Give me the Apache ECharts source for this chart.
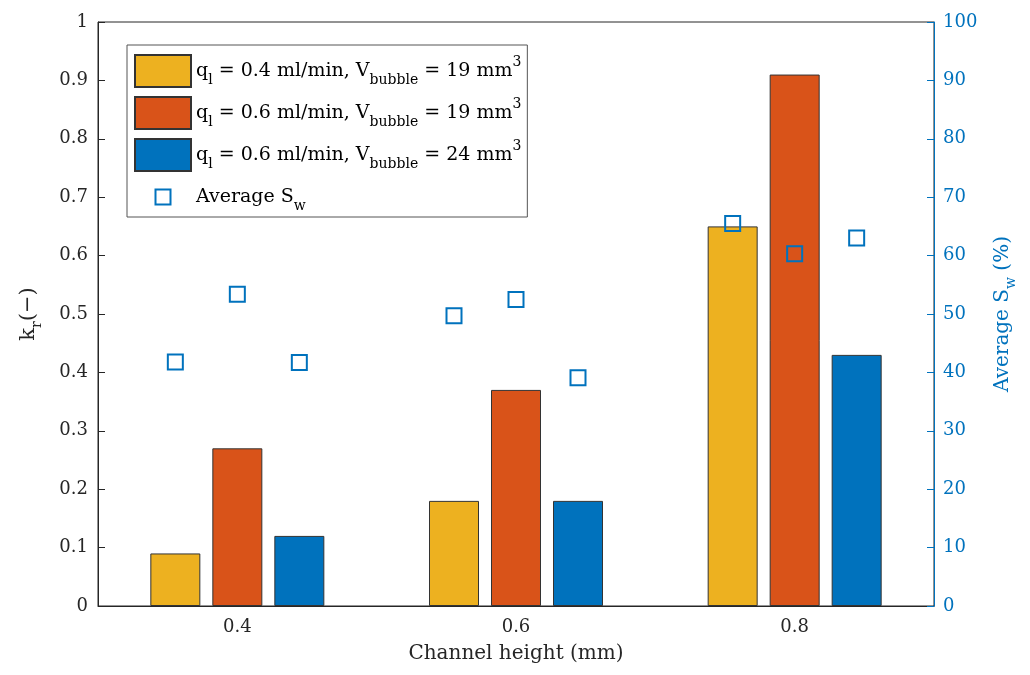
<!DOCTYPE html>
<html>
<head>
<meta charset="utf-8">
<script src="https://cdn.jsdelivr.net/npm/echarts@6/dist/echarts.min.js"></script>
<style>html,body{margin:0;padding:0;background:#fff}#c{width:1030px;height:675px}</style>
</head>
<body>
<div id="c"></div>
<script>
// ---- data ----
const channelHeights = ['0.4', '0.6', '0.8'];
const krLowFlow19 = [0.09, 0.18, 0.65];   // q_l = 0.4 ml/min, V = 19 mm3
const krHighFlow19 = [0.27, 0.37, 0.91];  // q_l = 0.6 ml/min, V = 19 mm3
const krHighFlow24 = [0.12, 0.18, 0.43];  // q_l = 0.6 ml/min, V = 24 mm3
const swLowFlow19 = [41.8, 49.7, 65.5];   // average Sw (%)
const swHighFlow19 = [53.4, 52.5, 60.3];
const swHighFlow24 = [41.7, 39.1, 63.0];
const krTicks = { min: 0, max: 1, interval: 0.1 };
const swTicks = { min: 0, max: 100, interval: 10 };

const FONT = 'DejaVu Serif';
const BLUE = '#0072BD';
const DARK = '#262626';
const colors = ['#EDB120', '#D95319', '#0072BD'];

const legendRich = {
  n: { fontFamily: FONT, fontSize: 19, color: '#000', lineHeight: 32, verticalAlign: 'middle' },
  sb: { fontFamily: FONT, fontSize: 14, color: '#000', lineHeight: 14, verticalAlign: 'bottom' },
  sp: { fontFamily: FONT, fontSize: 14, color: '#000', lineHeight: 18, verticalAlign: 'top' }
};
const legendText = {
  s1: '{n|q}{sb|l}{n| = 0.4 ml/min, V}{sb|bubble}{n| = 19 mm}{sp|3}',
  s2: '{n|q}{sb|l}{n| = 0.6 ml/min, V}{sb|bubble}{n| = 19 mm}{sp|3}',
  s3: '{n|q}{sb|l}{n| = 0.6 ml/min, V}{sb|bubble}{n| = 24 mm}{sp|3}',
  sw: '{n|Average S}{sb|w}'
};

const barW = 50, barGapPx = 12;
const pitch = barW + barGapPx;

function barSeries(name, data, color) {
  return {
    name, type: 'bar', data, barWidth: barW, barGap: (barGapPx / barW * 100) + '%',
    itemStyle: { color, borderColor: '#333', borderWidth: 1 },
    xAxisIndex: 0, yAxisIndex: 0, z: 2
  };
}
function swSeries(data, offset) {
  return {
    name: 'sw', type: 'scatter', data, xAxisIndex: 0, yAxisIndex: 1,
    symbol: 'rect', symbolSize: 15, symbolOffset: [offset, 0],
    itemStyle: { color: 'rgba(0,0,0,0)', borderColor: BLUE, borderWidth: 2, opacity: 1 },
    z: 5
  };
}

const chart = echarts.init(document.getElementById('c'), null, { renderer: 'canvas' });
chart.setOption({
  animation: false,
  backgroundColor: '#fff',
  grid: { left: 98, right: 96, top: 22, bottom: 69, show: true, borderColor: DARK, borderWidth: 1, backgroundColor: 'transparent' },
  legend: {
    orient: 'vertical', left: 127, top: 45,
    padding: [9, 6, 3, 7], itemGap: 8, itemWidth: 56, itemHeight: 32, itemTextGap: 3,
    backgroundColor: '#fff', borderColor: '#555', borderWidth: 1, borderRadius: 0,
    selectedMode: false,
    data: [
      { name: 's1', icon: 'rect' }, { name: 's2', icon: 'rect' }, { name: 's3', icon: 'rect' },
      { name: 'sw', icon: 'path://M0,0M56,32M20.5,8.5h15v15h-15z',
        itemStyle: { color: 'rgba(0,0,0,0)', borderColor: BLUE, borderWidth: 2 } }
    ],
    formatter: n => legendText[n],
    textStyle: { rich: legendRich, fontFamily: FONT, fontSize: 19 }
  },
  xAxis: [{
    type: 'category', data: channelHeights, position: 'bottom',
    name: 'Channel height (mm)', nameLocation: 'middle', nameGap: 38,
    nameTextStyle: { fontFamily: FONT, fontSize: 20, color: DARK },
    axisLine: { lineStyle: { color: DARK, width: 1 } },
    axisTick: { inside: true, alignWithLabel: true, length: 7, lineStyle: { color: DARK } },
    axisLabel: { fontFamily: FONT, fontSize: 18, color: DARK, margin: 12 },
    splitLine: { show: false }
  }],
  yAxis: [{
    type: 'value', position: 'left', min: krTicks.min, max: krTicks.max, interval: krTicks.interval,
    name: '{n|k}{s|r}{n|(−)}', nameLocation: 'middle', nameGap: 54,
    nameTextStyle: {
      rich: {
        n: { fontFamily: FONT, fontSize: 21, color: DARK, lineHeight: 30, verticalAlign: 'middle' },
        s: { fontFamily: FONT, fontSize: 14, color: DARK, lineHeight: 14, verticalAlign: 'bottom' }
      }
    },
    axisLine: { show: true, lineStyle: { color: DARK, width: 1 } },
    axisTick: { show: true, inside: true, length: 7, lineStyle: { color: DARK } },
    axisLabel: { fontFamily: FONT, fontSize: 18, color: DARK, margin: 10 },
    splitLine: { show: false }
  }, {
    type: 'value', position: 'right', min: swTicks.min, max: swTicks.max, interval: swTicks.interval,
    name: '{n|Average S}{s|w}{n| (%)}', nameLocation: 'middle', nameGap: 54, nameRotate: 90,
    nameTextStyle: {
      rich: {
        n: { fontFamily: FONT, fontSize: 20, color: BLUE, lineHeight: 30, verticalAlign: 'middle' },
        s: { fontFamily: FONT, fontSize: 14, color: BLUE, lineHeight: 14, verticalAlign: 'bottom' }
      }
    },
    axisLine: { show: true, lineStyle: { color: BLUE, width: 1 } },
    axisTick: { show: true, inside: true, length: 7, lineStyle: { color: BLUE } },
    axisLabel: { fontFamily: FONT, fontSize: 18, color: BLUE, margin: 9 },
    splitLine: { show: false }
  }],
  series: [
    barSeries('s1', krLowFlow19, colors[0]),
    barSeries('s2', krHighFlow19, colors[1]),
    barSeries('s3', krHighFlow24, colors[2]),
    swSeries(swLowFlow19, -pitch),
    swSeries(swHighFlow19, 0),
    swSeries(swHighFlow24, pitch)
  ]
});
</script>
</body>
</html>
